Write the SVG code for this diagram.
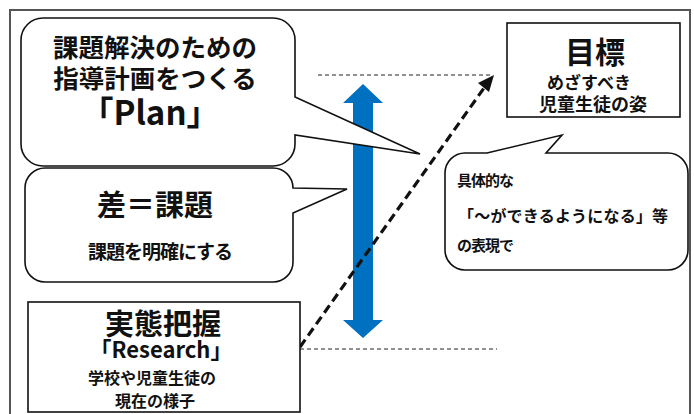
<svg xmlns="http://www.w3.org/2000/svg" width="694" height="414" viewBox="0 0 694 414">
<defs>
<style>
.frame{fill:#fff;stroke:#555;stroke-width:2}
.shape{fill:#fff;stroke:#111;stroke-width:1.6;stroke-linejoin:miter}
.t{font-family:"Noto Sans CJK JP","Noto Sans",sans-serif;font-weight:bold;fill:#111}
.c{text-anchor:middle}
.guide{stroke:#222;stroke-width:1;stroke-dasharray:4 3;fill:none}
.dash{stroke:#111;stroke-width:3.2;stroke-dasharray:9 5;fill:none}
</style>
</defs>
<rect x="0" y="0" width="694" height="414" fill="#fff"/>
<rect class="frame" x="10" y="10" width="680" height="420"/>

<g id="connectors">
<line class="guide" x1="318" y1="75" x2="490" y2="75"/>
<line class="guide" x1="300" y1="349" x2="497" y2="349"/>
<path id="blue-arrow" d="M363,84 L383,103 L373,103 L373,320 L383,320 L363,338 L343,320 L353,320 L353,103 L343,103 Z" fill="#0070C0"/>
<line class="dash" x1="300" y1="347" x2="484" y2="88"/>
<path d="M494,75 L478,83 L489,92 Z" fill="#111"/>
</g>

<g id="plan">
<path class="shape" d="M43,18 H273 A22,22 0 0 1 295,40 V97 L420,154 L295,135 V144 A22,22 0 0 1 273,166 H43 A22,22 0 0 1 21,144 V40 A22,22 0 0 1 43,18 Z"/>
<text class="t c" x="155" y="57" font-size="25.5">課題解決のための</text>
<text class="t c" x="155" y="88" font-size="25.5">指導計画をつくる</text>
<text class="t c" x="150" y="125" font-size="33">「Plan」</text>
</g>

<g id="gap">
<path class="shape" d="M45,168 H273 A20,20 0 0 1 293,188 L347,189 L293,213 V262 A20,20 0 0 1 273,282 H45 A20,20 0 0 1 25,262 V188 A20,20 0 0 1 45,168 Z"/>
<text class="t c" x="155" y="216" font-size="29">差＝課題</text>
<text class="t c" x="160" y="259" font-size="19" letter-spacing="-1">課題を明確にする</text>
</g>

<g id="research">
<rect class="shape" x="28" y="302" width="272" height="110"/>
<text class="t c" x="163" y="335" font-size="29">実態把握</text>
<text class="t c" x="161" y="358" font-size="22">「Research」</text>
<text class="t c" x="152" y="384" font-size="16">学校や児童生徒の</text>
<text class="t c" x="155" y="407" font-size="16">現在の様子</text>
</g>

<g id="goal">
<rect class="shape" x="507" y="23" width="173" height="94"/>
<text class="t c" x="595" y="63" font-size="30">目標</text>
<text class="t c" x="589" y="89" font-size="17">めざすべき</text>
<text class="t c" x="593" y="111" font-size="18">児童生徒の姿</text>
</g>

<g id="specific">
<path class="shape" d="M465,153 H487 L562,135 L546,153 H668 A20,20 0 0 1 688,173 V250 A20,20 0 0 1 668,270 H465 A20,20 0 0 1 445,250 V173 A20,20 0 0 1 465,153 Z"/>
<text class="t" x="457" y="186" font-size="15" letter-spacing="-1">具体的な</text>
<text class="t" x="458" y="222" font-size="16" letter-spacing="0.2">「～ができるようになる」等</text>
<text class="t" x="457" y="251" font-size="15" letter-spacing="-1">の表現で</text>
</g>
</svg>
